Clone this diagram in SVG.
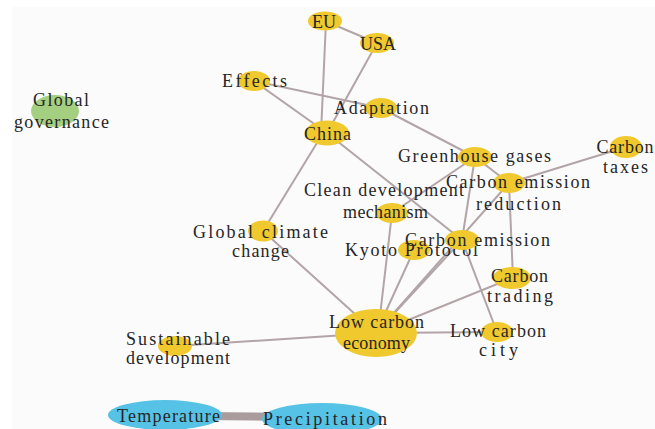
<svg xmlns="http://www.w3.org/2000/svg" width="655" height="429" viewBox="0 0 655 429">
<style>
.y{fill:#f0c92e}
.g{fill:#a5cf80}
.b{fill:#56c2e6}
.e{stroke:#b2a4a7;stroke-width:2;fill:none}
text{font-family:"Liberation Serif",serif;font-size:18px;fill:#262626;text-anchor:middle}
</style>
<rect x="0" y="0" width="655" height="429" fill="#ffffff"/>
<rect x="12" y="7" width="643" height="422" fill="#fbfbfb"/>
<g id="connectors">
<line class="e" x1="325" y1="21" x2="377" y2="43"/>
<line class="e" x1="326" y1="21" x2="321" y2="133"/>
<line class="e" x1="377" y1="43" x2="327" y2="133"/>
<line class="e" x1="254" y1="81" x2="381" y2="108"/>
<line class="e" x1="254" y1="81" x2="327" y2="133"/>
<line class="e" x1="381" y1="108" x2="475" y2="157"/>
<line class="e" x1="320" y1="138" x2="263" y2="231"/>
<line class="e" x1="327" y1="133" x2="462" y2="240"/>
<line class="e" x1="475" y1="157" x2="509" y2="183"/>
<line class="e" x1="475" y1="157" x2="392" y2="213"/>
<line class="e" x1="475" y1="157" x2="462" y2="240"/>
<line class="e" x1="509" y1="183" x2="626" y2="147"/>
<line class="e" x1="509" y1="183" x2="513" y2="278"/>
<line class="e" x1="509" y1="183" x2="376" y2="333"/>
<line class="e" x1="462" y1="240" x2="376" y2="333" stroke-width="4"/>
<line class="e" x1="462" y1="240" x2="497" y2="332"/>
<line class="e" x1="392" y1="213" x2="378" y2="333"/>
<line class="e" x1="414" y1="250" x2="376" y2="333"/>
<line class="e" x1="512" y1="278" x2="376" y2="333"/>
<line class="e" x1="497" y1="332" x2="376" y2="333"/>
<line class="e" x1="175" y1="346" x2="376" y2="333"/>
<line class="e" x1="263" y1="231" x2="376" y2="333"/>
<line x1="200" y1="416" x2="290" y2="417" stroke="#a99b9e" stroke-width="8"/>
</g>
<g id="global-governance"><ellipse class="g" cx="55" cy="111" rx="24" ry="16"/><text x="61" y="106" textLength="56">Global</text><text x="61.5" y="128" textLength="95">governance</text></g>
<g id="eu"><ellipse class="y" cx="325" cy="21" rx="17" ry="9.5"/><text x="324" y="28">EU</text></g>
<g id="usa"><ellipse class="y" cx="377" cy="43" rx="17" ry="10"/><text x="378" y="50">USA</text></g>
<g id="effects"><ellipse class="y" cx="254" cy="81" rx="16" ry="10"/><text x="254.5" y="87" textLength="65">Effects</text></g>
<g id="adaptation"><ellipse class="y" cx="381" cy="108" rx="16" ry="10"/><text x="381.5" y="114" textLength="95">Adaptation</text></g>
<g id="china"><ellipse class="y" cx="327" cy="133" rx="22" ry="12.5"/><text x="327.5" y="140" textLength="47">China</text></g>
<g id="greenhouse-gases"><ellipse class="y" cx="475" cy="157" rx="17" ry="10"/><text x="474.5" y="162" textLength="153">Greenhouse gases</text></g>
<g id="carbon-taxes"><ellipse class="y" cx="626" cy="147" rx="16" ry="11"/><text x="625" y="153" textLength="57">Carbon</text><text x="625.5" y="173" textLength="45">taxes</text></g>
<g id="carbon-emission-reduction"><ellipse class="y" cx="509" cy="183" rx="16" ry="10"/><text x="518" y="188" textLength="144">Carbon emission</text><text x="518.5" y="210" textLength="85">reduction</text></g>
<g id="clean-development-mechanism"><ellipse class="y" cx="392" cy="213" rx="16" ry="10"/><text x="384" y="196" textLength="160">Clean development</text><text x="385.5" y="218" textLength="85">mechanism</text></g>
<g id="global-climate-change"><ellipse class="y" cx="263" cy="231" rx="15" ry="10.5"/><text x="260.5" y="238" textLength="135">Global climate</text><text x="260.5" y="257" textLength="57">change</text></g>
<g id="kyoto-protocol"><ellipse class="y" cx="414" cy="250" rx="16" ry="10"/><text x="411.5" y="256" textLength="133">Kyoto Protocol</text></g>
<g id="carbon-emission"><ellipse class="y" cx="462" cy="240" rx="17" ry="10"/><text x="477.5" y="246" textLength="145">Carbon emission</text></g>
<g id="carbon-trading"><ellipse class="y" cx="512" cy="278" rx="19" ry="11"/><text x="519.5" y="282" textLength="57">Carbon</text><text x="520" y="302" textLength="66">trading</text></g>
<g id="low-carbon-economy"><ellipse class="y" cx="376" cy="333" rx="41" ry="24"/><text x="376.5" y="328" textLength="95">Low carbon</text><text x="376.5" y="349" textLength="67">economy</text></g>
<g id="low-carbon-city"><ellipse class="y" cx="497" cy="332" rx="16" ry="10"/><text x="498" y="337" textLength="96">Low carbon</text><text x="498.5" y="356" textLength="39">city</text></g>
<g id="sustainable-development"><ellipse class="y" cx="175" cy="346" rx="17" ry="10"/><text x="178" y="345" textLength="104">Sustainable</text><text x="178" y="364" textLength="104">development</text></g>
<g id="temperature"><ellipse class="b" cx="165" cy="415" rx="57" ry="15"/><text x="168.5" y="422" textLength="103">Temperature</text></g>
<g id="precipitation"><ellipse class="b" cx="322" cy="419" rx="60" ry="16"/><text x="325" y="425" textLength="124">Precipitation</text></g>
</svg>
